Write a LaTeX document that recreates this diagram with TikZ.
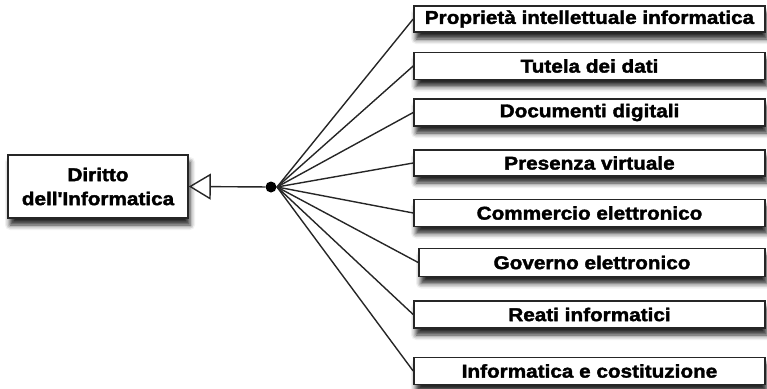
\documentclass[tikz,border=0pt]{standalone}
\usepackage{fontspec}
\newfontfamily\boxfont{Liberation Sans Bold}[FakeStretch=1.12, FakeBold=2]
\usetikzlibrary{arrows.meta,shadows.blur}
\tikzset{
  rbox/.style={draw=black!85, line width=1.6pt, fill=white, rectangle, inner sep=0pt,
    font=\boxfont\fontsize{18.5}{24}\selectfont, text=black, align=center,
    blur shadow={shadow xshift=2pt, shadow yshift=-7pt, shadow blur radius=5pt, shadow opacity=85}},
  link/.style={draw=black!85, line width=1.4pt},
}
\begin{document}
\begin{tikzpicture}[x=1pt,y=-1pt]
\useasboundingbox (0,0) rectangle (767,388);
\node[rbox, minimum width=180pt, minimum height=63pt] (main) at (98,186.5) {Diritto\\dell'Informatica};
\node[rbox, minimum width=351pt, minimum height=26pt] (b1) at (589.5,19) {Proprietà intellettuale informatica};
\node[rbox, minimum width=351pt, minimum height=27pt] (b2) at (589.5,66) {Tutela dei dati};
\node[rbox, minimum width=351pt, minimum height=27pt] (b3) at (589.5,112.5) {Documenti digitali};
\node[rbox, minimum width=351pt, minimum height=26pt] (b4) at (589.5,163) {Presenza virtuale};
\node[rbox, minimum width=351pt, minimum height=27pt] (b5) at (589.5,213) {Commercio elettronico};
\node[rbox, minimum width=346pt, minimum height=28pt] (b6) at (592,262.5) {Governo elettronico};
\node[rbox, minimum width=351pt, minimum height=27pt] (b7) at (589.5,314.5) {Reati informatici};
\node[rbox, minimum width=351pt, minimum height=27pt] (b8) at (589.5,371) {Informatica e costituzione};
\coordinate (fan) at (277,187);
\foreach \b in {b1,b2,b3,b4,b5,b6,b7,b8} \draw[link] (fan) -- (\b.west);
\node[circle, fill=black, inner sep=0pt, minimum size=11pt] (dot) at (271,187) {};
\draw[link, -{Triangle[open, length=22pt, width=26pt, line width=1.4pt]}] (dot) -- (main.east);
\end{tikzpicture}
\end{document}
